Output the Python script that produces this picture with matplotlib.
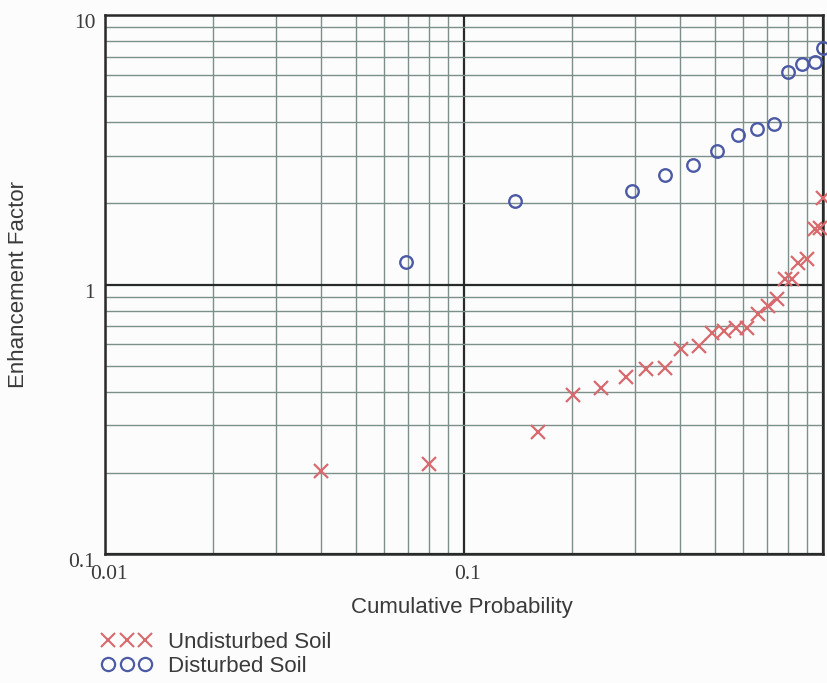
import matplotlib
matplotlib.use("Agg")
import matplotlib.pyplot as plt
from matplotlib.lines import Line2D
from matplotlib.ticker import FixedLocator, NullFormatter, FixedFormatter, LogLocator
import matplotlib.transforms as mtransforms

# ---- data ----
undisturbed_prob = [0.040, 0.080, 0.161, 0.201, 0.241, 0.283, 0.322, 0.362, 0.402, 0.451,
                    0.491, 0.531, 0.573, 0.615, 0.657, 0.701, 0.743, 0.782, 0.818, 0.851,
                    0.902, 0.950, 0.981, 1.000]
undisturbed_factor = [0.204, 0.215, 0.284, 0.389, 0.413, 0.455, 0.486, 0.490, 0.575, 0.590,
                      0.659, 0.671, 0.688, 0.688, 0.775, 0.830, 0.881, 1.05, 1.05, 1.20,
                      1.24, 1.60, 1.62, 2.09]
disturbed_prob = [0.069, 0.139, 0.293, 0.362, 0.434, 0.507, 0.581, 0.653, 0.728, 0.797,
                  0.873, 0.950, 1.000]
disturbed_factor = [1.21, 2.04, 2.22, 2.55, 2.78, 3.14, 3.60, 3.76, 3.95, 6.13,
                    6.56, 6.68, 7.53]

x_ticks = [0.01, 0.1, 1]
x_tick_labels = ["0.01", "0.1", ""]
y_ticks = [0.1, 1, 10]
y_tick_labels = ["0.1", "1", "10"]

x_label = "Cumulative Probability"
y_label = "Enhancement Factor"
series_labels = ["Undisturbed Soil", "Disturbed Soil"]

red = "#d86a6e"
blue = "#4c5aa6"
text_col = "#3a3a3a"
minor_grid = "#7d8f8b"
major_grid = "#262b2a"

fig = plt.figure(figsize=(8.28, 6.83), dpi=100)
fig.patch.set_facecolor("#fbfcfb")
ax = fig.add_axes([105/828, (683-554)/683, (823-105)/828, (554-15)/683])
ax.set_facecolor("#fbfcfb")
ax.set_xscale("log")
ax.set_yscale("log")
ax.set_xlim(0.01, 1)
ax.set_ylim(0.1, 10)

ax.xaxis.set_major_locator(FixedLocator(x_ticks))
ax.xaxis.set_major_formatter(FixedFormatter(x_tick_labels))
ax.yaxis.set_major_locator(FixedLocator(y_ticks))
ax.yaxis.set_major_formatter(FixedFormatter(y_tick_labels))
ax.xaxis.set_minor_locator(LogLocator(base=10, subs=range(2, 10)))
ax.yaxis.set_minor_locator(LogLocator(base=10, subs=range(2, 10)))
ax.xaxis.set_minor_formatter(NullFormatter())
ax.yaxis.set_minor_formatter(NullFormatter())

ax.grid(True, which="minor", color=minor_grid, linewidth=1.0, zorder=0)
ax.grid(True, which="major", color=major_grid, linewidth=1.6, zorder=0)
ax.set_axisbelow(True)
ax.tick_params(which="both", length=0)
ax.tick_params(axis="x", pad=8, labelsize=15.5, labelcolor=text_col)
ax.tick_params(axis="y", pad=7, labelsize=15.5, labelcolor=text_col)
for lab in ax.get_xticklabels() + ax.get_yticklabels():
    lab.set_fontfamily(["Liberation Serif", "DejaVu Serif"])
off_y = mtransforms.ScaledTranslation(0, -6/100, fig.dpi_scale_trans)
for lab in ax.get_yticklabels():
    lab.set_transform(lab.get_transform() + off_y)
off_x = mtransforms.ScaledTranslation(4/100, 0, fig.dpi_scale_trans)
for lab in ax.get_xticklabels():
    lab.set_transform(lab.get_transform() + off_x)

for s in ax.spines.values():
    s.set_color("#2a2a2a")
    s.set_linewidth(1.8)

ax.plot(undisturbed_prob, undisturbed_factor, linestyle="none", marker="x",
        markersize=10.5, markeredgewidth=1.6, color=red, clip_on=False, zorder=3)
ax.plot(disturbed_prob, disturbed_factor, linestyle="none", marker="o",
        markersize=9, markeredgewidth=1.7, markerfacecolor="none",
        markeredgecolor=blue, clip_on=False, zorder=3)

sans = ["Liberation Sans", "DejaVu Sans"]
ax.set_xlabel(x_label, fontsize=16, family=sans, color=text_col)
ax.xaxis.set_label_coords((462-105)/718, (554-607)/539)
ax.xaxis.label.set_va("center")
ax.set_ylabel(y_label, fontsize=16, family=sans, color=text_col)
ax.yaxis.set_label_coords((19-105)/718, 0.5)
ax.yaxis.label.set_va("center")

handles = [
    Line2D([], [], linestyle="none", marker="x", markersize=9.5, markeredgewidth=1.5, color=red),
    Line2D([], [], linestyle="none", marker="o", markersize=9.5, markeredgewidth=1.6,
           markerfacecolor="none", markeredgecolor=blue),
]
leg = fig.legend(handles, series_labels, loc="upper left", bbox_to_anchor=(101/828, 1 - 632/683),
                 frameon=False, numpoints=3, handlelength=2.3, handletextpad=0.7,
                 labelspacing=0.12, borderpad=0, borderaxespad=0,
                 prop={"family": sans, "size": 16})
for t in leg.get_texts():
    t.set_color(text_col)

fig.savefig("out.png", dpi=100, facecolor=fig.get_facecolor())
